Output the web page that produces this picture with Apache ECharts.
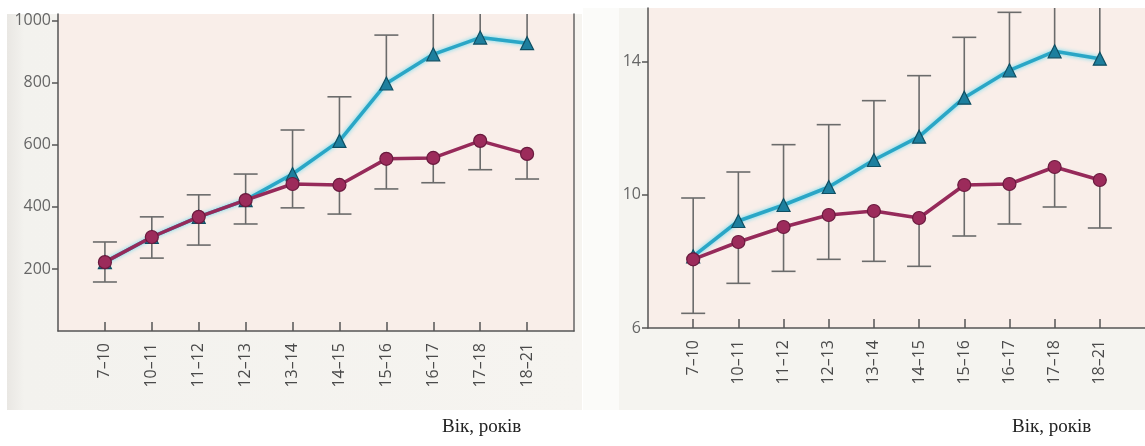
<!DOCTYPE html>
<html>
<head>
<meta charset="utf-8">
<style>
html,body{margin:0;padding:0;background:#ffffff;}
#chart{width:1145px;height:446px;}
</style>
<script src="https://cdn.jsdelivr.net/npm/echarts@6/dist/echarts.min.js"></script>
</head>
<body>
<div id="chart"></div>
<script>
// ---- data ----
const categories = ['7–10','10–11','11–12','12–13','13–14','14–15','15–16','16–17','17–18','18–21'];

// left panel
const leftTriMean  = [222, 303, 368, 422, 506, 613, 798, 892, 946, 928];
const leftTriUpper = [287, 368, 439, 506, 648, 755, 954, 1080, 1090, 1070];
const leftCircMean = [222, 303, 368, 422, 474, 471, 555, 558, 613, 571];
const leftCircLower= [158, 235, 277, 345, 397, 377, 458, 478, 520, 490];
const leftTicks = [200, 400, 600, 800, 1000];

// right panel
const rightTriMean  = [8.15, 9.21, 9.69, 10.23, 11.04, 11.74, 12.91, 13.73, 14.30, 14.08];
const rightTriUpper = [9.90, 10.68, 11.50, 12.10, 12.82, 13.57, 14.72, 15.47, 16.20, 16.00];
const rightCircMean = [8.06, 8.58, 9.03, 9.39, 9.51, 9.30, 10.29, 10.32, 10.83, 10.44];
const rightCircLower= [6.44, 7.34, 7.70, 8.06, 8.00, 7.85, 8.76, 9.12, 9.63, 9.00];
const rightTicks = [6, 10, 14];

const xTitle = 'Вік, років';

// ---- helpers ----
const axisCats = [''].concat(categories, ['']);
const n = categories.length;
function pairs(arr){ return arr.map((v,i)=>[i+1, v]); }
function triples(mean, end){ return mean.map((v,i)=>[i+1, v, end[i]]); }

const AXIS_COLOR = '#555';
const LABEL_COLOR = '#666';
const TRI_LINE = '#2aa6c6';
const TRI_FILL = '#1d7f9e';
const CIRC_LINE = '#962a5a';
const CIRC_FILL = '#9c2b5b';

function errRender(params, api){
  const x = api.value(0), m = api.value(1), e = api.value(2);
  const p1 = api.coord([x, m]);
  const p2 = api.coord([x, e]);
  const cs = params.coordSys;
  const top = cs.y, bot = cs.y + cs.height;
  let y2 = p2[1];
  let clipped = false;
  if (y2 < top) { y2 = top; clipped = true; }
  if (y2 > bot) { y2 = bot; clipped = true; }
  const st = {stroke:'#6b6b6b', lineWidth:1.6};
  const children = [{type:'line', shape:{x1:p1[0], y1:p1[1], x2:p1[0], y2:y2}, style:st}];
  if (!clipped) children.push({type:'line', shape:{x1:p1[0]-12, y1:y2, x2:p1[0]+12, y2:y2}, style:st});
  return {type:'group', children};
}

function xAxisCfg(gi){
  return {
    gridIndex: gi, type:'category', data: axisCats, boundaryGap:false,
    axisLine:{show:true, lineStyle:{color:AXIS_COLOR, width:1.5}},
    axisTick:{show:true, inside:true, length:9, alignWithLabel:true,
      interval:(i)=> i>0 && i<=n, lineStyle:{color:AXIS_COLOR, width:1.5}},
    axisLabel:{interval:0, rotate:90, margin:12, color:'#4a4a4a', fontSize:16, fontFamily:'Open Sans'},
    splitLine:{show:false}
  };
}
function yAxisCfg(gi, min, max, ticks){
  return {
    gridIndex: gi, type:'value', min, max,
    axisLine:{show:true, lineStyle:{color:AXIS_COLOR, width:1.5}},
    axisTick:{show:true, length:6, customValues: ticks, lineStyle:{color:AXIS_COLOR, width:1.5}},
    axisLabel:{customValues: ticks, margin:7, color:LABEL_COLOR, fontSize:16, fontFamily:'Open Sans',
      formatter:(v)=> String(v)},
    splitLine:{show:false}
  };
}

function panelSeries(gi, triMean, triUpper, circMean, circLower){
  return [
    {type:'custom', xAxisIndex:gi, yAxisIndex:gi, renderItem: errRender,
     data: triples(triMean, triUpper), encode:{x:0, y:[1,2]}, z:1, silent:true},
    {type:'custom', xAxisIndex:gi, yAxisIndex:gi, renderItem: errRender,
     data: triples(circMean, circLower), encode:{x:0, y:[1,2]}, z:1, silent:true},
    {type:'line', xAxisIndex:gi, yAxisIndex:gi, data: pairs(triMean), z:3,
     symbol:'triangle', symbolSize:13,
     lineStyle:{color:TRI_LINE, width:3.5, shadowColor:'rgba(80,215,240,0.9)', shadowBlur:4},
     itemStyle:{color:TRI_FILL, borderColor:'#0f4f63', borderWidth:1.2}},
    {type:'line', xAxisIndex:gi, yAxisIndex:gi, data: pairs(circMean), z:4,
     symbol:'circle', symbolSize:13,
     lineStyle:{color:CIRC_LINE, width:3.5},
     itemStyle:{color:CIRC_FILL, borderColor:'#6a1a3e', borderWidth:1.2}}
  ];
}

const chart = echarts.init(document.getElementById('chart'), null, {renderer:'canvas'});
chart.setOption({
  animation:false,
  backgroundColor:'#ffffff',
  graphic:[
    {type:'rect', z:-10, shape:{x:7, y:14, width:575, height:396},
     style:{fill:new echarts.graphic.LinearGradient(0,0,1,0,[{offset:0,color:'#e9e7e3'},{offset:0.03,color:'#f3f2ee'},{offset:1,color:'#f6f4f0'}])}},
    {type:'rect', z:-10, shape:{x:619, y:8, width:530, height:402},
     style:{fill:'#f5f4f0'}},
    {type:'rect', z:-10, shape:{x:583, y:8, width:36, height:402},
     style:{fill:'#fbfbf9'}},
    {type:'text', left:442, top:418, style:{text:xTitle, font:'19px "Liberation Serif", serif', fill:'#222'}},
    {type:'text', left:1012, top:418, style:{text:xTitle, font:'19px "Liberation Serif", serif', fill:'#222'}}
  ],
  grid:[
    {left:58, top:14, width:516, height:317, show:true, backgroundColor:'#f9eee9', borderWidth:0},
    {left:648, top:8, width:514, height:320, show:true, backgroundColor:'#f9eee9', borderWidth:0}
  ],
  xAxis:[xAxisCfg(0), xAxisCfg(1)],
  yAxis:[
    yAxisCfg(0, 0, 1022, leftTicks),
    yAxisCfg(1, 6, 15.6, rightTicks),
    {gridIndex:0, type:'value', position:'right', min:0, max:1022,
     axisLine:{show:true, lineStyle:{color:'#666', width:1.5}},
     axisTick:{show:false}, axisLabel:{show:false}, splitLine:{show:false}}
  ],
  series: [].concat(
    panelSeries(0, leftTriMean, leftTriUpper, leftCircMean, leftCircLower),
    panelSeries(1, rightTriMean, rightTriUpper, rightCircMean, rightCircLower)
  )
});
</script>
</body>
</html>
